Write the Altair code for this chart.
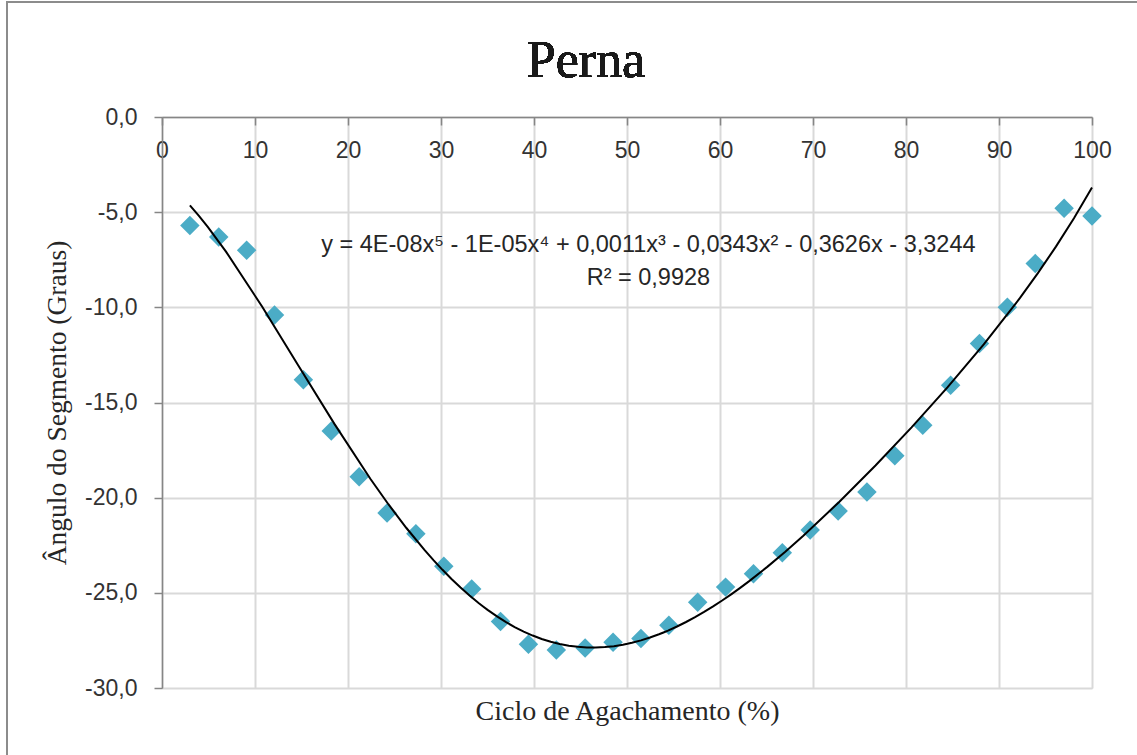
import altair as alt
import pandas as pd

# Squat cycle (%) and shank segment angle (degrees)
ciclo = [3.0, 6.1, 9.1, 12.1, 15.2, 18.2, 21.2, 24.2, 27.3, 30.3, 33.3,
         36.4, 39.4, 42.4, 45.5, 48.5, 51.5, 54.5, 57.6, 60.6, 63.6, 66.7,
         69.7, 72.7, 75.8, 78.8, 81.8, 84.8, 87.9, 90.9, 93.9, 97.0, 100.0]
angulo = [-5.7, -6.3, -7.0, -10.4, -13.8, -16.5, -18.9, -20.8, -21.9, -23.6,
          -24.8, -26.5, -27.7, -28.0, -27.9, -27.6, -27.4, -26.7, -25.5, -24.7,
          -24.0, -22.9, -21.7, -20.7, -19.7, -17.8, -16.2, -14.1, -11.9, -10.0,
          -7.7, -4.8, -5.2]

# Trendline equation box
eq_text = ["y = 4E-08x\u2075 - 1E-05x\u2074 + 0,0011x\u00b3 - 0,0343x\u00b2 - 0,3626x - 3,3244",
           "R\u00b2 = 0,9928"]
eq_x = [52.3, 52.3]
eq_y = [-6.73, -8.45]

x_ticks = list(range(0, 101, 10))
y_ticks = [0, -5, -10, -15, -20, -25, -30]

W, H = 930, 571
SANS = "Liberation Sans"
SERIF = "Liberation Serif"

df = pd.DataFrame({"x": ciclo, "y": angulo})
eq = pd.DataFrame({"x": eq_x, "y": eq_y, "t": eq_text})

x_enc = alt.X(
    "x:Q",
    scale=alt.Scale(domain=[0, 100], nice=False, zero=False),
    axis=alt.Axis(
        orient="bottom", offset=-H, values=x_ticks, labelFlush=False,
        title="Ciclo de Agachamento (%)",
        titleX=W / 2, titleY=602, titleAlign="center", titleBaseline="alphabetic",
        titleFont=SERIF, titleFontSize=28, titleFontWeight="normal", titleColor="#262626",
        labelFont=SANS, labelFontSize=23, labelColor="#333333", labelPadding=14,
        tickSize=8, tickColor="#868686", tickWidth=1.5,
        domainColor="#868686", domainWidth=1.5,
        grid=True, gridColor="#d9d9d9", gridWidth=2,
    ),
)
y_enc = alt.Y(
    "y:Q",
    scale=alt.Scale(domain=[-30, 0], nice=False, zero=False),
    axis=alt.Axis(
        orient="left", values=y_ticks, labelFlush=False,
        labelExpr="(datum.value < 0 ? '-' : '') + replace(format(abs(datum.value), '.1f'), '.', ',')",
        title="\u00c2ngulo do Segmento (Graus)",
        titleX=-97, titleY=H / 2, titleAlign="center", titleBaseline="alphabetic", titleAngle=270,
        titleFont=SERIF, titleFontSize=27.5, titleFontWeight="normal", titleColor="#262626",
        labelFont=SANS, labelFontSize=23, labelColor="#333333", labelPadding=17,
        tickSize=8, tickColor="#868686", tickWidth=1.5,
        domainColor="#868686", domainWidth=1.5,
        grid=True, gridColor="#d9d9d9", gridWidth=2,
    ),
)

base = alt.Chart(df)

points = base.mark_point(
    shape="diamond", filled=True, size=380, color="#4BACC6", opacity=1
).encode(x=x_enc, y=y_enc)

trend = base.transform_regression(
    "x", "y", method="poly", order=5
).mark_line(color="black", strokeWidth=2).encode(x="x:Q", y="y:Q")

labels = alt.Chart(eq).mark_text(
    font=SANS, fontSize=23.5, color="#262626", align="center", baseline="middle"
).encode(x="x:Q", y="y:Q", text="t:N")

# Chart heading, centred above the plot
heading = alt.Chart(df).mark_text(
    font=SERIF, fontSize=52, color="#1a1a1a", align="center", baseline="alphabetic"
).encode(x=alt.value(W / 2 - 41), y=alt.value(-40), text=alt.value("Perna"))

# Outer chart border
frame = alt.Chart(df).mark_rect(
    fill=None, stroke="#8c8c8c", strokeWidth=2
).encode(x=alt.value(-155), x2=alt.value(W + 60), y=alt.value(-115), y2=alt.value(H + 80))

chart = alt.layer(frame, points, trend, labels, heading).properties(
    width=W, height=H,
    autosize=alt.AutoSizeParams(type="none"),
    padding={"left": 162, "top": 117, "right": 45, "bottom": 67},
).configure_view(stroke=None).configure(background="white")

chart.save("out.html", embed_options={"renderer": "svg", "actions": False})
